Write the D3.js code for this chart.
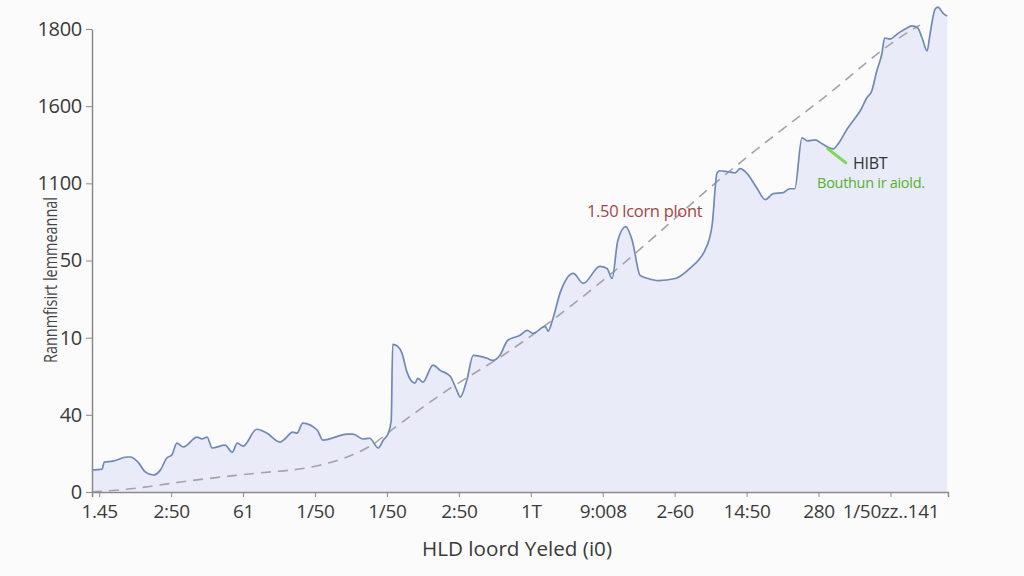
<!DOCTYPE html>
<html>
<head>
<meta charset="utf-8">
<script src="https://cdn.jsdelivr.net/npm/d3@7"></script>
<style>
  html, body { margin: 0; padding: 0; background: #fbfbfb; }
  svg { display: block; }
</style>
</head>
<body>
<svg id="chart" width="1024" height="576"></svg>
<script>
// ---- data ----
const xTickLabels = ["1.45", "2:50", "61", "1/50", "1/50", "2:50", "1T", "9:008", "2-60", "14:50", "280", "1/50zz..141"];
const xTickValues = [1, 11, 21, 31, 41, 51, 61, 71, 81, 91, 101, 111];
const yTickLabels = ["0", "40", "10", "50", "1100", "1600", "1800"];
const yTickValues = [0, 300, 600, 900, 1200, 1500, 1800];

const seriesT = [0, 1.4, 1.7, 2.9, 4.9, 5.3, 6.4, 7.4, 8.5, 9.5, 10.4, 11.1, 11.8, 12.7, 14.6, 15.3, 16.0, 16.7, 18.5, 19.5, 20.2, 21.0, 22.9, 24.3, 26.1, 26.8, 27.9, 28.5, 29.3, 31.3, 32.1, 35.5, 36.3, 37.7, 38.6, 39.8, 40.5, 41.2, 41.6, 41.8, 42.5, 43.1, 43.8, 44.9, 45.3, 46.0, 47.4, 48.4, 49.8, 50.7, 51.2, 52.1, 53.0, 54.9, 55.7, 56.7, 57.8, 59.5, 60.5, 61.3, 63.0, 63.4, 64.0, 65.1, 66.9, 68.3, 70.6, 71.6, 72.3, 73.1, 74.2, 75.1, 76.2, 77.3, 78.7, 81.1, 83.1, 84.5, 85.2, 86.2, 86.9, 87.3, 88.4, 89.4, 90.1, 91.1, 92.4, 93.6, 94.7, 96.1, 97.0, 97.7, 98.7, 99.5, 100.5, 101.5, 103.0, 104.0, 105.0, 105.8, 106.8, 107.7, 108.4, 109.1, 109.8, 110.2, 110.9, 112.1, 113.3, 114.0, 114.8, 115.4, 116.1, 116.5, 117.2, 117.6, 118.3, 118.9];
const seriesV = [85, 89, 116, 120, 136, 136, 116, 78, 66, 85, 132, 144, 190, 175, 213, 206, 213, 171, 182, 155, 190, 178, 244, 229, 194, 206, 233, 229, 268, 241, 202, 225, 225, 206, 209, 171, 202, 229, 279, 574, 566, 539, 465, 423, 442, 427, 493, 473, 450, 396, 369, 434, 531, 520, 512, 531, 590, 609, 628, 617, 644, 625, 667, 776, 850, 811, 877, 869, 830, 978, 1032, 978, 842, 830, 822, 830, 869, 908, 939, 1036, 1241, 1249, 1245, 1241, 1257, 1237, 1183, 1137, 1160, 1164, 1179, 1179, 1377, 1365, 1369, 1354, 1334, 1365, 1412, 1443, 1482, 1532, 1559, 1637, 1703, 1765, 1761, 1784, 1804, 1812, 1804, 1765, 1715, 1780, 1877, 1885, 1862, 1850];

const trendT = [0, 3.9, 7.6, 12.2, 17.8, 24.3, 28.5, 33.1, 36.3, 39.1, 41.0, 43.5, 45.6, 50.7, 56.3, 63.7, 72.0, 77.6, 81.8, 86.9, 95.6, 102.6, 109.6, 114.1, 115.1];
const trendV = [0, 8, 19, 39, 58, 78, 85, 112, 144, 182, 229, 279, 322, 423, 512, 659, 842, 978, 1082, 1210, 1404, 1548, 1718, 1800, 1815];

const annotations = [
  { text: "1.50 lcorn plont", t: 68.8, v: 1070, color: "#a34545", size: 16.5, weight: 400, spacing: -0.3 },
  { text: "HIBT", t: 105.8, v: 1255, color: "#333333", size: 16, weight: 500, spacing: -0.3 },
  { text: "Bouthun ir aiold.", t: 100.8, v: 1180, color: "#56b02a", size: 14.5, weight: 400, spacing: -0.3 }
];
const pointerT = [102.3, 104.8];
const pointerV = [1334, 1280];

const xTitle = "HLD loord Yeled (i0)";
const yTitle = "Rannmfisirt lemmeannal";

// ---- layout ----
const svg = d3.select("#chart");
const mLeft = 92, mRight = 948, mTop = 29, mBottom = 492;
const FONT = "'Open Sans', Roboto, sans-serif";

const x = d3.scaleLinear().domain([0, 119]).range([mLeft, mRight]);
const y = d3.scaleLinear().domain([0, 1800]).range([mBottom, mTop]);

const series = seriesT.map((t, i) => ({ t, v: seriesV[i] }));
const trend = trendT.map((t, i) => ({ t, v: trendV[i] }));

// area
svg.append("path")
  .datum(series)
  .attr("fill", "#e9ecf8")
  .attr("d", d3.area().x(d => x(d.t)).y0(y(0)).y1(d => y(d.v)).curve(d3.curveMonotoneX));

// dashed trend
svg.append("path")
  .datum(trend)
  .attr("fill", "none")
  .attr("stroke", "#a3a3a8")
  .attr("stroke-width", 1.6)
  .attr("stroke-dasharray", "10,7")
  .attr("d", d3.line().x(d => x(d.t)).y(d => y(d.v)).curve(d3.curveBasis));

// line
svg.append("path")
  .datum(series)
  .attr("fill", "none")
  .attr("stroke", "#7189b6")
  .attr("stroke-width", 1.7)
  .attr("stroke-linejoin", "round")
  .attr("d", d3.line().x(d => x(d.t)).y(d => y(d.v)).curve(d3.curveMonotoneX));

// axes
const yAxis = d3.axisLeft(y).tickValues(yTickValues).tickFormat((d, i) => yTickLabels[i]).tickSize(6).tickSizeOuter(0);
const yg = svg.append("g").attr("transform", `translate(${mLeft},0)`).call(yAxis);
yg.select(".domain").attr("stroke", "#8a8a8a").attr("stroke-width", 1.5);
yg.selectAll(".tick line").attr("stroke", "#8a8a8a");
yg.selectAll(".tick text").attr("font-family", FONT).attr("font-size", 20).attr("fill", "#3a3a3a").attr("x", -10).attr("letter-spacing", -0.3);

const xAxis = d3.axisBottom(x).tickValues(xTickValues).tickFormat((d, i) => xTickLabels[i]).tickSize(5).tickSizeOuter(5);
const xg = svg.append("g").attr("transform", `translate(0,${mBottom})`).call(xAxis);
xg.select(".domain").attr("stroke", "#8a8a8a").attr("stroke-width", 1.5);
xg.selectAll(".tick line").attr("stroke", "#8a8a8a");
xg.selectAll(".tick text").attr("font-family", FONT).attr("font-size", 19).attr("fill", "#3a3a3a").attr("y", 13).attr("letter-spacing", -0.3);

// titles
svg.append("text")
  .attr("x", 422).attr("y", 556)
  .attr("font-family", FONT)
  .attr("font-size", 20).attr("fill", "#3a3a3a")
  .attr("textLength", 190).attr("lengthAdjust", "spacingAndGlyphs")
  .text(xTitle);

svg.append("text")
  .attr("transform", "translate(57,363) rotate(-90)")
  .attr("font-family", FONT)
  .attr("font-size", 19).attr("fill", "#444")
  .attr("textLength", 166).attr("lengthAdjust", "spacingAndGlyphs")
  .text(yTitle);

// pointer
svg.append("line")
  .attr("x1", x(pointerT[0])).attr("y1", y(pointerV[0]))
  .attr("x2", x(pointerT[1])).attr("y2", y(pointerV[1]))
  .attr("stroke", "#7fd957").attr("stroke-width", 3).attr("stroke-linecap", "round");

// annotations
svg.selectAll("text.ann")
  .data(annotations)
  .enter().append("text")
  .attr("class", "ann")
  .attr("x", d => x(d.t)).attr("y", d => y(d.v))
  .attr("font-family", FONT)
  .attr("font-size", d => d.size)
  .attr("font-weight", d => d.weight)
  .attr("letter-spacing", d => d.spacing)
  .attr("fill", d => d.color)
  .text(d => d.text);
</script>
</body>
</html>
